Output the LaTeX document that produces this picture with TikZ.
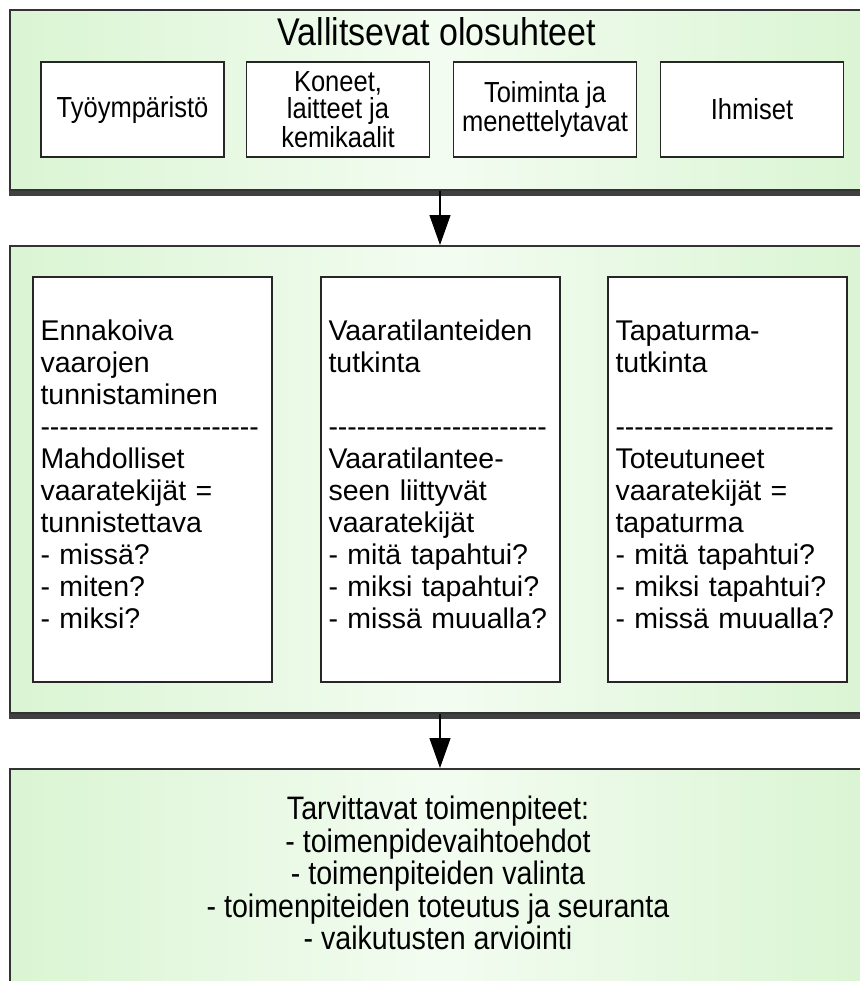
\documentclass[tikz,border=0pt]{standalone}
\usepackage{fontspec}
\setmainfont{Liberation Sans}[Ligatures=TeXOff]
\newfontfamily\narrowsans{Liberation Sans}[FakeStretch=0.88]
\usepackage{tikz}
\usetikzlibrary{shapes.geometric,arrows.meta,shadows,positioning}
\definecolor{panelgreen}{RGB}{218,245,211}
\definecolor{panelpale}{RGB}{243,252,241}

\begin{document}
\begin{tikzpicture}[x = 0.5pt, y = -0.5pt]
	\tikzstyle{panel} = [rectangle, draw = black!80, line width = 1pt, left color = panelgreen, right color = panelgreen, middle color = panelpale, minimum width = 430pt, drop shadow = {shadow xshift = -0.7pt, shadow yshift = -3pt, fill = black, opacity = 0.75}]
	\tikzstyle{factor} = [rectangle, draw = black!85, fill = white, line width = 0.7pt, minimum width = 91.5pt, minimum height = 47.5pt, align = center, font = {\narrowsans\fontsize{14.5pt}{13.5pt}\selectfont}]
	\tikzstyle{survey} = [rectangle, draw = black!85, fill = white, line width = 0.7pt, minimum width = 119.5pt, minimum height = 202.5pt, inner sep = 3.5pt, text width = 112pt, align = left, font = {\fontsize{14.25pt}{16pt}\selectfont}, execute at end node = {\endgraf\vspace{5pt}}]
	\tikzstyle{flow} = [-{Triangle[length = 15pt, width = 10.5pt]}, line width = 0.6pt]

\useasboundingbox (0,0) rectangle (859,981);

\node[panel, minimum height = 90pt] (conditions) at (440,100) {};
\node[font = {\narrowsans\fontsize{19.3pt}{20pt}\selectfont}] (condtitle) at (437,32) {Vallitsevat olosuhteet};
\node[factor] (environment) at (132.5,109.5) {Työympäristö};
\node[factor] (machines) at (338,109.5) {Koneet,\\laitteet ja\\kemikaalit};
\node[factor] (practices) at (545,109.5) {Toiminta ja\\menettelytavat};
\node[factor] (people) at (752,109.5) {Ihmiset};

\node[panel, minimum height = 233.5pt] (analysis) at (440,479.5) {};
\node[survey] (proactive) at (152.5,479.5) {Ennakoiva\\vaarojen\\tunnistaminen\\-----------------------\\Mahdolliset\\vaaratekijät =\\tunnistettava\\- missä?\\- miten?\\- miksi?};
\node[survey] (nearmiss) at (440.5,479.5) {Vaaratilanteiden\\tutkinta\\\mbox{}\\-----------------------\\Vaaratilantee-\\seen liittyvät\\vaaratekijät\\- mitä tapahtui?\\- miksi tapahtui?\\- missä muualla?};
\node[survey] (accident) at (727.5,479.5) {Tapaturma-\\tutkinta\\\mbox{}\\-----------------------\\Toteutuneet\\vaaratekijät =\\tapaturma\\- mitä tapahtui?\\- miksi tapahtui?\\- missä muualla?};

\node[panel, minimum height = 140pt] (measures) at (440,909) {};
\node[align = center, font = {\narrowsans\fontsize{16.25pt}{16.25pt}\selectfont}] (measurelist) at (438,873) {Tarvittavat toimenpiteet:\\- toimenpidevaihtoehdot\\- toimenpiteiden valinta\\- toimenpiteiden toteutus ja seuranta\\- vaikutusten arviointi};

	\path[draw, flow] (conditions.south) -- (analysis.north);
	\path[draw, flow] (analysis.south) -- (measures.north);
\end{tikzpicture}
\end{document}
